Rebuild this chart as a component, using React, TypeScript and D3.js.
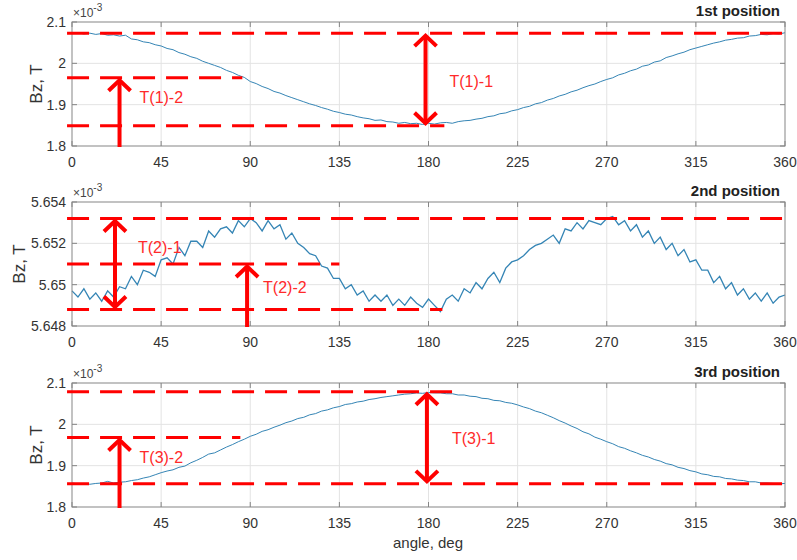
import * as d3 from 'd3';

// sampling grid (deg)
const angles = d3.range(0, 361, 3);
const angleTicks = [0, 45, 90, 135, 180, 225, 270, 315, 360];

// Bz, x10^-3 T, every 3 deg
const pos1 = [
  2.072, 2.074, 2.071, 2.073, 2.070, 2.072, 2.068, 2.069, 2.066, 2.068,
  2.059, 2.057, 2.052, 2.050, 2.045, 2.042, 2.036, 2.033, 2.026, 2.022,
  2.016, 2.012, 2.005, 2.000, 1.995, 1.990, 1.983, 1.978, 1.971, 1.966,
  1.956, 1.951, 1.944, 1.939, 1.932, 1.928, 1.922, 1.917, 1.912, 1.907,
  1.902, 1.898, 1.893, 1.889, 1.884, 1.881, 1.877, 1.875, 1.871, 1.868,
  1.866, 1.862, 1.863, 1.859, 1.858, 1.855, 1.857, 1.854, 1.855, 1.852,
  1.855, 1.853, 1.856, 1.857, 1.855, 1.859, 1.861, 1.862, 1.865, 1.867,
  1.871, 1.873, 1.878, 1.880, 1.885, 1.888, 1.893, 1.896, 1.902, 1.905,
  1.911, 1.915, 1.921, 1.925, 1.931, 1.935, 1.941, 1.946, 1.950, 1.956,
  1.961, 1.965, 1.972, 1.976, 1.982, 1.986, 1.993, 1.996, 2.003, 2.006,
  2.014, 2.018, 2.023, 2.027, 2.033, 2.037, 2.041, 2.045, 2.049, 2.052,
  2.056, 2.058, 2.061, 2.062, 2.066, 2.067, 2.070, 2.069, 2.072, 2.071,
  2.074,
];

const pos2 = [
  5.6497, 5.6494, 5.6498, 5.6493, 5.6496, 5.6492, 5.6497, 5.6494, 5.6499, 5.6498,
  5.6504, 5.6500, 5.6507, 5.6506, 5.6504, 5.6512, 5.6513, 5.6510, 5.6518, 5.6514,
  5.6521, 5.6521, 5.6518, 5.6526, 5.6523, 5.6527, 5.6528, 5.6525, 5.6531, 5.6528,
  5.6532, 5.6530, 5.6526, 5.6531, 5.6527, 5.6529, 5.6522, 5.6525, 5.6520, 5.6518,
  5.6515, 5.6514, 5.6509, 5.6508, 5.6503, 5.6503, 5.6498, 5.6500, 5.6495, 5.6497,
  5.6492, 5.6495, 5.6492, 5.6495, 5.6490, 5.6493, 5.6490, 5.6494, 5.6491, 5.6489,
  5.6493, 5.6490, 5.6487, 5.6493, 5.6495, 5.6492, 5.6498, 5.6496, 5.6501, 5.6498,
  5.6503, 5.6506, 5.6501, 5.6508, 5.6511, 5.6512, 5.6514, 5.6517, 5.6519, 5.6520,
  5.6522, 5.6524, 5.6520, 5.6527, 5.6526, 5.6530, 5.6527, 5.6531, 5.6530, 5.6529,
  5.6532, 5.6533, 5.6529, 5.6531, 5.6526, 5.6529, 5.6523, 5.6526, 5.6520, 5.6523,
  5.6517, 5.6520, 5.6514, 5.6517, 5.6511, 5.6512, 5.6507, 5.6507, 5.6501, 5.6504,
  5.6498, 5.6501, 5.6495, 5.6498, 5.6493, 5.6496, 5.6492, 5.6496, 5.6491, 5.6494,
  5.6495,
];

const pos3 = [
  1.858, 1.856, 1.857, 1.855, 1.857, 1.858, 1.862, 1.858, 1.860, 1.861,
  1.864, 1.866, 1.870, 1.873, 1.878, 1.883, 1.887, 1.890, 1.896, 1.899,
  1.907, 1.913, 1.920, 1.928, 1.931, 1.938, 1.945, 1.951, 1.958, 1.964,
  1.971, 1.976, 1.983, 1.987, 1.993, 1.998, 2.004, 2.008, 2.014, 2.017,
  2.023, 2.026, 2.032, 2.035, 2.040, 2.043, 2.048, 2.050, 2.054, 2.056,
  2.060, 2.062, 2.065, 2.067, 2.069, 2.071, 2.073, 2.074, 2.076, 2.075,
  2.077, 2.076, 2.076, 2.074, 2.074, 2.071, 2.071, 2.068, 2.067, 2.063,
  2.062, 2.058, 2.057, 2.053, 2.051, 2.047, 2.042, 2.038, 2.032, 2.028,
  2.022, 2.016, 2.009, 2.003, 1.996, 1.990, 1.982, 1.977, 1.969, 1.964,
  1.958, 1.953, 1.946, 1.942, 1.936, 1.931, 1.925, 1.921, 1.915, 1.911,
  1.905, 1.902, 1.896, 1.893, 1.888, 1.885, 1.880, 1.878, 1.874, 1.873,
  1.869, 1.868, 1.865, 1.864, 1.861, 1.861, 1.858, 1.858, 1.857, 1.856,
  1.857,
];

const ticks1 = [1.8, 1.9, 2, 2.1];
const ticks2 = [5.648, 5.65, 5.652, 5.654];
const ticks3 = [1.8, 1.9, 2, 2.1];

const tickLabels1 = ['1.8', '1.9', '2', '2.1'];
const tickLabels2 = ['5.648', '5.65', '5.652', '5.654'];
const tickLabels3 = ['1.8', '1.9', '2', '2.1'];

// dashed reference levels (x10^-3 T)
const levels1 = [2.073, 1.965, 1.849];
const levels2 = [5.6532, 5.651, 5.6488];
const levels3 = [2.079, 1.968, 1.856];

const titles = ['1st position', '2nd position', '3rd position'];

const W = 797;
const H = 560;
const left = 72;
const right = 785;
const plotH = 124;

const RED = '#ff0000';

const panels = [
  {
    top: 22, data: pos1, ticks: ticks1, tickLabels: tickLabels1, levels: levels1, title: titles[0], ylabX: 42, lw: 1,
    dashes: [{ lv: 0, to: 362 }, { lv: 1, to: 86 }, { lv: 2, to: 188 }],
    arrows: [
      { at: 178.5, from: 2, to: 0, both: true, label: 'T(1)-1', dx: 24, dy: 8 },
      { at: 24, from: -1, to: 1, both: false, label: 'T(1)-2', dx: 20, dy: -9 },
    ],
  },
  {
    top: 202, data: pos2, ticks: ticks2, tickLabels: tickLabels2, levels: levels2, title: titles[1], ylabX: 25, lw: 1.3,
    dashes: [{ lv: 0, to: 362 }, { lv: 1, to: 135 }, { lv: 2, to: 187 }],
    arrows: [
      { at: 21.7, from: 2, to: 0, both: true, label: 'T(2)-1', dx: 23, dy: -11 },
      { at: 88.4, from: -1, to: 1, both: false, label: 'T(2)-2', dx: 16, dy: -3 },
    ],
  },
  {
    top: 383, data: pos3, ticks: ticks3, tickLabels: tickLabels3, levels: levels3, title: titles[2], ylabX: 42, lw: 1,
    dashes: [{ lv: 0, to: 197 }, { lv: 1, to: 85 }, { lv: 2, to: 362 }],
    arrows: [
      { at: 179.2, from: 2, to: 0, both: true, label: 'T(3)-1', dx: 25, dy: 6 },
      { at: 24, from: -1, to: 1, both: false, label: 'T(3)-2', dx: 20, dy: -10 },
    ],
  },
];

const x = d3.scaleLinear().domain([0, 360]).range([left, right]);

function Head({ cx, tip, dir }: { cx: number; tip: number; dir: number }) {
  // dir = -1 points up, +1 points down
  const base = tip - dir * 13;
  const apex = tip - dir * 2.5;
  return (
    <polyline
      points={`${cx - 11},${base} ${cx},${apex} ${cx + 11},${base}`}
      fill="none"
      stroke={RED}
      strokeWidth={4}
      strokeLinejoin="miter"
    />
  );
}

function Panel({ p }: { p: (typeof panels)[number] }) {
  const bottom = p.top + plotH;
  const y = d3
    .scaleLinear()
    .domain([p.ticks[0], p.ticks[p.ticks.length - 1]])
    .range([bottom, p.top]);
  const line = d3
    .line<number>()
    .x((_, i) => x(angles[i]))
    .y((d) => y(d));

  return (
    <g>
      {/* grid */}
      {angleTicks.slice(1, -1).map((t) => (
        <line key={'gx' + t} x1={x(t)} x2={x(t)} y1={p.top} y2={bottom} stroke="#e3e3e3" />
      ))}
      {p.ticks.slice(1, -1).map((t) => (
        <line key={'gy' + t} x1={left} x2={right} y1={y(t)} y2={y(t)} stroke="#e3e3e3" />
      ))}

      <path d={line(p.data) || ''} fill="none" stroke="#3585b5" strokeWidth={p.lw} />

      {/* box + inner ticks */}
      <rect x={left} y={p.top} width={right - left} height={plotH} fill="none" stroke="#858585" />
      {angleTicks.map((t) => (
        <g key={'tx' + t}>
          <line x1={x(t)} x2={x(t)} y1={bottom} y2={bottom - 5} stroke="#858585" />
          <line x1={x(t)} x2={x(t)} y1={p.top} y2={p.top + 5} stroke="#858585" />
          <text x={x(t)} y={bottom + 21} textAnchor="middle" fontSize={14} fill="#333">
            {t}
          </text>
        </g>
      ))}
      {p.ticks.map((t, i) => (
        <g key={'ty' + t}>
          <line x1={left} x2={left + 5} y1={y(t)} y2={y(t)} stroke="#858585" />
          <line x1={right} x2={right - 5} y1={y(t)} y2={y(t)} stroke="#858585" />
          <text x={left - 6} y={y(t)} dy="0.35em" textAnchor="end" fontSize={14} fill="#333">
            {p.tickLabels[i]}
          </text>
        </g>
      ))}

      <text x={left + 1} y={p.top - 5} fontSize={12} fill="#444">
        ×10
        <tspan fontSize={10} dy={-6}>
          -3
        </tspan>
      </text>

      <text
        transform={`translate(${p.ylabX},${p.top + plotH / 2}) rotate(-90)`}
        textAnchor="middle"
        fontSize={17}
        fill="#333"
      >
        Bz, T
      </text>

      <text x={780} y={p.top - 6} textAnchor="end" fontSize={15} fontWeight="bold" fill="#222">
        {p.title}
      </text>

      {/* annotations */}
      {p.dashes.map((d, i) => (
        <line
          key={'d' + i}
          x1={x(-2.5)}
          x2={x(d.to)}
          y1={y(p.levels[d.lv])}
          y2={y(p.levels[d.lv])}
          stroke={RED}
          strokeWidth={3}
          strokeDasharray="22 11"
        />
      ))}
      {p.arrows.map((a, i) => {
        const cx = x(a.at);
        const y0 = a.from < 0 ? bottom + 1 : y(p.levels[a.from]);
        const y1 = y(p.levels[a.to]);
        const mid = (y0 + y1) / 2;
        return (
          <g key={'a' + i}>
            <line x1={cx} x2={cx} y1={a.both ? y0 - 3 : y0} y2={y1 + 3} stroke={RED} strokeWidth={4} />
            <Head cx={cx} tip={y1} dir={-1} />
            {a.both && <Head cx={cx} tip={y0} dir={1} />}
            <text x={cx + a.dx} y={mid + a.dy} fontSize={16} fill="#ff2a2a">
              {a.label}
            </text>
          </g>
        );
      })}
    </g>
  );
}

export default function App() {
  return (
    <svg
      width={W}
      height={H}
      style={{ position: 'absolute', left: 0, top: 0, background: '#fff' }}
      fontFamily="'Liberation Sans', Arial, sans-serif"
    >
      {panels.map((p, i) => (
        <Panel key={i} p={p} />
      ))}
      <text x={428} y={548} textAnchor="middle" fontSize={15} fill="#333">
        angle, deg
      </text>
    </svg>
  );
}
